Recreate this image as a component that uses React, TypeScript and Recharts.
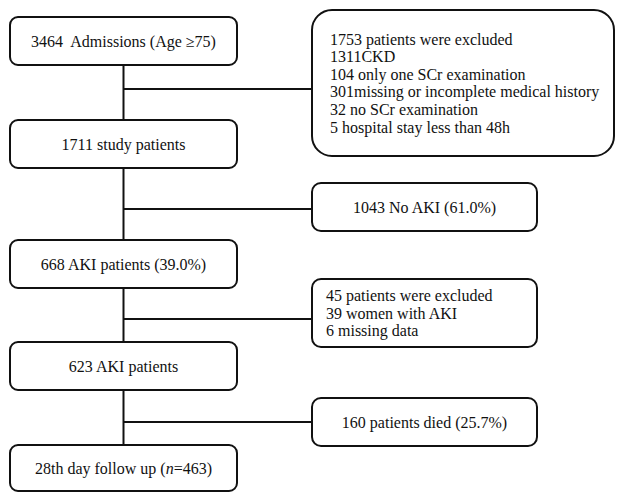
import React from "react";
import {
  ScatterChart,
  Scatter,
  XAxis,
  YAxis,
  ReferenceArea,
  ReferenceLine,
} from "recharts";

// main flow steps (left column), top to bottom
const MAIN_STEPS = [
  "3464\u00a0 Admissions (Age \u226575)",
  "1711 study patients",
  "668 AKI patients (39.0%)",
  "623 AKI patients",
  "28th day follow up (n=463)",
];
// vertical extent of each main step box (chart units, top -> bottom)
const MAIN_TOP = [17, 120, 240, 342, 445];
const MAIN_BOTTOM = [65, 168, 288, 390, 491];

// side boxes (exclusions / outcomes)
const SIDE_LINES = [
  [
    "1753 patients were excluded",
    "1311CKD",
    "104 only one SCr examination",
    "301missing or incomplete medical history",
    "32 no SCr examination",
    "5 hospital stay less than 48h",
  ],
  ["1043 No AKI (61.0%)"],
  ["45 patients were excluded", "39 women with AKI", "6 missing data"],
  ["160 patients died (25.7%)"],
];
const SIDE_TOP = [10, 183, 279, 398];
const SIDE_BOTTOM = [156, 231, 347, 446];
const SIDE_RIGHT = [614, 537, 537, 537];
// y of the branch that leads from the spine to each side box
const BRANCH_Y = [89, 209, 319, 422];

const W = 618;
const H = 492;
const MAIN_LEFT = 10;
const MAIN_RIGHT = 237;
const SPINE_X = 123.5;
const SIDE_LEFT = 312;
const INK = "#111";
const FONT = "Liberation Serif";
const LINE_H = 17.6;

// anchor points so the chart has data to lay out its axes
const stepPoints = MAIN_STEPS.map((_, i) => ({
  x: SPINE_X,
  y: (MAIN_TOP[i] + MAIN_BOTTOM[i]) / 2,
}));

function BoxShape(props: any) {
  const { x, y, width, height, lines, align, r, pad = 18 } = props;
  const cy = y + height / 2;
  const start = cy - ((lines.length - 1) * LINE_H) / 2;
  const tx = align === "left" ? x + pad : x + width / 2;
  return (
    <g>
      <rect
        x={x}
        y={y}
        width={width}
        height={height}
        rx={r}
        ry={r}
        fill="#fff"
        stroke={INK}
        strokeWidth={2}
      />
      <text
        x={tx}
        textAnchor={align === "left" ? "start" : "middle"}
        style={{ fontFamily: FONT, fontSize: 16 }}
        fill={INK}
      >
        {lines.map((ln: string, i: number) => {
          // italic "n" in the follow-up box
          const m = ln.match(/^(.*\()n(=.*)$/);
          return (
            <tspan key={i} x={tx} y={start + i * LINE_H} dominantBaseline="central">
              {m ? (
                <>
                  {m[1]}
                  <tspan fontStyle="italic">n</tspan>
                  {m[2]}
                </>
              ) : (
                ln
              )}
            </tspan>
          );
        })}
      </text>
    </g>
  );
}

export default function App() {
  return (
    <div style={{ position: "absolute", left: 0, top: 0, background: "#fff" }}>
      <ScatterChart width={W} height={H} margin={{ top: 0, right: 0, bottom: 0, left: 0 }}>
        <XAxis type="number" dataKey="x" domain={[0, W]} allowDataOverflow hide />
        <YAxis type="number" dataKey="y" domain={[0, H]} allowDataOverflow reversed hide />

        <Scatter data={stepPoints} shape={() => <g />} isAnimationActive={false} />

        {/* spine between main steps */}
        {MAIN_STEPS.slice(1).map((_, i) => (
          <ReferenceLine
            key={`spine-${i}`}
            segment={[
              { x: SPINE_X, y: MAIN_BOTTOM[i] },
              { x: SPINE_X, y: MAIN_TOP[i + 1] },
            ]}
            ifOverflow="visible"
            stroke={INK}
            strokeWidth={2}
          />
        ))}

        {/* branches to side boxes */}
        {BRANCH_Y.map((by, i) => (
          <ReferenceLine
            key={`branch-${i}`}
            segment={[
              { x: SPINE_X, y: by },
              { x: SIDE_LEFT, y: by },
            ]}
            ifOverflow="visible"
            stroke={INK}
            strokeWidth={2}
          />
        ))}

        {MAIN_STEPS.map((label, i) => (
          <ReferenceArea
            key={`main-${i}`}
            x1={MAIN_LEFT}
            x2={MAIN_RIGHT}
            y1={MAIN_TOP[i]}
            y2={MAIN_BOTTOM[i]}
            ifOverflow="visible"
            shape={(p: any) => <BoxShape {...p} lines={[label]} align="center" r={8} />}
          />
        ))}

        {SIDE_LINES.map((lines, i) => (
          <ReferenceArea
            key={`side-${i}`}
            x1={SIDE_LEFT}
            x2={SIDE_RIGHT[i]}
            y1={SIDE_TOP[i]}
            y2={SIDE_BOTTOM[i]}
            ifOverflow="visible"
            shape={(p: any) => (
              <BoxShape
                {...p}
                lines={lines}
                align={lines.length > 1 ? "left" : "center"}
                pad={i === 0 ? 18 : 14}
                r={i === 0 ? 20 : 9}
              />
            )}
          />
        ))}
      </ScatterChart>
    </div>
  );
}
